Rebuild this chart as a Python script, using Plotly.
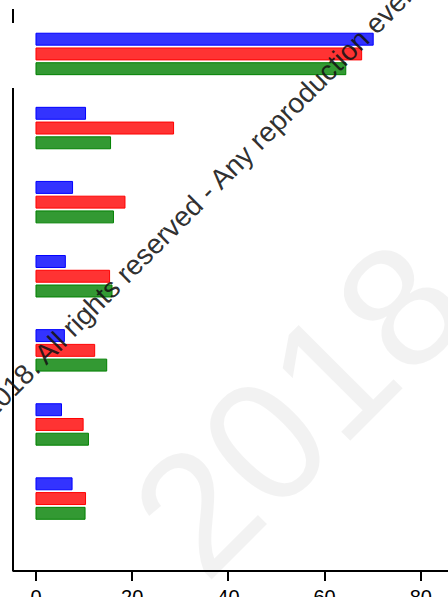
import plotly.graph_objects as go

# Seven groups, three series each (top to bottom within a group: blue, red, green)
groups = ["G1", "G2", "G3", "G4", "G5", "G6", "G7"]
blue_vals = [70.1, 10.3, 7.6, 6.1, 5.9, 5.3, 7.5]
red_vals = [67.7, 28.6, 18.5, 15.3, 12.2, 9.8, 10.3]
green_vals = [64.4, 15.5, 16.1, 15.8, 14.7, 10.9, 10.2]
x_ticks = [0, 20, 40, 60, 80]

series = [
    ("blue", blue_vals, "rgba(0,0,255,0.8)", "rgb(0,0,255)"),
    ("red", red_vals, "rgba(255,0,0,0.8)", "rgb(255,0,0)"),
    ("green", green_vals, "rgba(0,128,0,0.8)", "rgb(0,128,0)"),
]

fig = go.Figure()
for name, vals, fill, edge in series:
    fig.add_trace(go.Bar(
        name=name, y=groups, x=vals, orientation="h",
        marker=dict(color=fill, line=dict(color=edge, width=1)),
    ))

W, H = 448, 597
ml, mr, mt, mb = 13, 0, 10, 26.5
pw, ph = W - ml - mr, H - mt - mb


def px(x):
    return (x - ml) / pw


def py(y):
    return (H - mb - y) / ph


fig.update_layout(
    width=W, height=H,
    margin=dict(l=ml, r=mr, t=mt, b=mb, pad=0, autoexpand=False),
    paper_bgcolor="white", plot_bgcolor="white",
    barmode="group", bargap=0.403, bargroupgap=0.19,
    showlegend=False,
    xaxis=dict(
        range=[-4.78, 85.65], tickvals=x_ticks, ticktext=[str(t) for t in x_ticks],
        showgrid=False, zeroline=False, showline=True, linecolor="black", linewidth=2,
        ticks="outside", ticklen=9, tickwidth=1.5, tickcolor="black",
        ticklabelstandoff=-1, automargin=False,
        tickfont=dict(family="Liberation Sans", size=20, color="black"),
    ),
    yaxis=dict(
        type="category", range=[6.964, -0.593], automargin=False,
        showgrid=False, zeroline=False, showline=False, showticklabels=False, ticks="",
    ),
    shapes=[
        # left axis line, drawn in two pieces
        dict(type="line", xref="paper", yref="paper", x0=0, x1=0,
             y0=py(9), y1=py(23), line=dict(color="black", width=2)),
        dict(type="line", xref="paper", yref="paper", x0=0, x1=0,
             y0=py(88), y1=py(572), line=dict(color="black", width=2)),
    ],
    annotations=[
        dict(text="2018", xref="paper", yref="paper", x=px(298), y=py(408),
             xanchor="center", yanchor="middle",
             showarrow=False, textangle=-45,
             font=dict(family="Liberation Sans", size=172, color="rgba(0,0,0,0.05)")),
        dict(text="© 2018. All rights reserved - Any reproduction even",
             xref="paper", yref="paper", x=px(189.2), y=py(209.8),
             xanchor="center", yanchor="middle",
             showarrow=False, textangle=-45,
             font=dict(family="Liberation Sans", size=28, color="rgba(20,20,20,0.9)")),
    ],
)

fig.write_html("out.html")
